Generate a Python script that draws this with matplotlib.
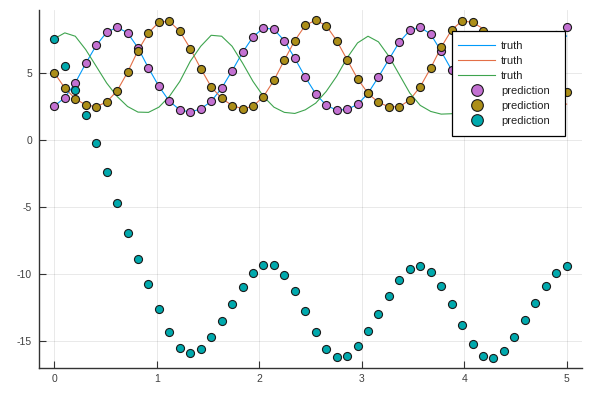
import numpy as np
import matplotlib
matplotlib.use("Agg")
import matplotlib.pyplot as plt
from matplotlib.patches import Rectangle

plt.rcParams['font.family'] = ['Liberation Sans', 'DejaVu Sans']

# time grid: 50 samples over [0, 5]
t = np.linspace(0, 5, 50)

pred_1 = [2.52, 3.15, 4.25, 5.70, 7.04, 8.02, 8.40, 7.98, 6.86, 5.36,
          3.99, 2.88, 2.24, 2.07, 2.31, 2.87, 3.86, 5.15, 6.52, 7.68,
          8.35, 8.24, 7.40, 6.08, 4.68, 3.43, 2.58, 2.22, 2.27, 2.64,
          3.47, 4.69, 6.00, 7.30, 8.16, 8.40, 7.88, 6.60, 5.21, 3.90,
          2.90, 2.35, 2.20, 2.40, 3.00, 4.00, 5.30, 6.70, 7.80, 8.42]

pred_2 = [5.00, 3.86, 3.07, 2.60, 2.48, 2.82, 3.66, 5.04, 6.66, 7.97,
          8.78, 8.84, 8.10, 6.81, 5.32, 3.95, 3.10, 2.56, 2.32, 2.50,
          3.23, 4.44, 5.95, 7.41, 8.54, 8.93, 8.52, 7.41, 5.98, 4.56,
          3.47, 2.79, 2.47, 2.47, 2.98, 3.97, 5.36, 6.91, 8.20, 8.88,
          8.76, 8.10, 6.90, 5.50, 4.10, 3.10, 2.60, 2.40, 2.65, 3.56]

pred_3 = [7.52, 5.48, 3.69, 1.86, -0.20, -2.42, -4.69, -6.91, -8.88, -10.75,
          -12.62, -14.34, -15.53, -15.93, -15.61, -14.71, -13.49, -12.22, -10.97, -9.90,
          -9.30, -9.35, -10.10, -11.29, -12.74, -14.31, -15.61, -16.23, -16.13, -15.38,
          -14.24, -12.97, -11.67, -10.47, -9.65, -9.40, -9.87, -10.90, -12.24, -13.81,
          -15.24, -16.13, -16.26, -15.73, -14.73, -13.46, -12.14, -10.92, -9.90, -9.40]

truth_1 = [2.52, 3.15, 4.25, 5.70, 7.04, 8.02, 8.40, 7.98, 6.86, 5.36,
           3.99, 2.88, 2.24, 2.07, 2.31, 2.87, 3.86, 5.15, 6.52, 7.68,
           8.35, 8.24, 7.40, 6.08, 4.68, 3.43, 2.58, 2.22, 2.27, 2.64,
           3.47, 4.69, 6.00, 7.30, 8.16, 8.40, 7.88, 6.60, 5.21, 4.20,
           3.10, 2.45, 2.20, 2.30, 2.80, 3.70, 4.90, 6.20, 7.20, 7.75]

truth_2 = [5.00, 3.86, 3.07, 2.60, 2.48, 2.82, 3.66, 5.04, 6.66, 7.97,
           8.78, 8.84, 8.10, 6.81, 5.32, 3.95, 3.10, 2.56, 2.32, 2.50,
           3.23, 4.44, 5.95, 7.41, 8.54, 8.93, 8.52, 7.41, 5.98, 4.56,
           3.47, 2.79, 2.47, 2.47, 2.98, 3.97, 5.36, 6.91, 8.20, 8.88,
           8.76, 8.30, 7.20, 5.80, 4.40, 3.30, 2.70, 2.40, 2.40, 2.67]

truth_3 = [7.55, 7.98, 7.73, 6.73, 5.49, 4.24, 3.24, 2.49, 2.07, 2.05,
           2.44, 3.24, 4.36, 5.86, 6.98, 7.80, 7.73, 6.98, 5.73, 4.36,
           3.24, 2.44, 2.05, 1.97, 2.24, 2.74, 3.61, 4.74, 6.11, 7.23,
           7.73, 7.31, 6.23, 4.86, 3.49, 2.57, 2.12, 1.92, 1.95, 2.20,
           2.80, 3.70, 4.90, 6.20, 7.30, 7.75, 7.35, 6.20, 4.80, 3.60]

line_colors = ['#009AFA', '#E36F47', '#3EA44E']
marker_colors = ['#C371D2', '#AC8E18', '#00A9AD']
line_labels = ['truth', 'truth', 'truth']
marker_labels = ['prediction', 'prediction', 'prediction']

W, H = 591, 393
fig = plt.figure(figsize=(W / 100, H / 100), dpi=100)
ax = fig.add_axes([39 / W, 1 - 368 / H, (582 - 39) / W, (368 - 10) / H])

handles = []
for y, c, lab in zip([truth_1, truth_2, truth_3], line_colors, line_labels):
    h, = ax.plot(t, y, color=c, lw=0.8, label=lab, zorder=2)
    handles.append(h)
for y, c, lab in zip([pred_1, pred_2, pred_3], marker_colors, marker_labels):
    h, = ax.plot(t, y, ls='none', marker='o', ms=5.8, mfc=c, mec='#1a1a1a',
                 mew=0.8, label=lab, zorder=3)
    handles.append(h)

allv = np.concatenate([pred_1, pred_2, pred_3, truth_1, truth_2, truth_3])
lo, hi = allv.min(), allv.max()
pad = 0.03 * (hi - lo)
ax.set_ylim(lo - pad, hi + pad)
ax.set_xlim(-0.15, 5.15)

ax.set_xticks([0, 1, 2, 3, 4, 5])
ax.set_yticks([-15, -10, -5, 0, 5])
ax.set_yticklabels(['-15', '-10', '-5', '0', '5'])
ax.grid(True, color='black', alpha=0.1, lw=0.6)
ax.set_axisbelow(True)
for s in ['top', 'right']:
    ax.spines[s].set_visible(False)
for s in ['left', 'bottom']:
    ax.spines[s].set_color('#333333')
    ax.spines[s].set_linewidth(1.0)
ax.tick_params(direction='in', length=5, width=0.8, color='#333333',
               labelsize=7.5, labelcolor='#404040')
ax.tick_params(axis='y', pad=5)
ax.tick_params(axis='x', pad=4.5)

# legend frame (drawn inside the axes, under the legend entries)
rect = Rectangle((452 / W, 1 - 136 / H), (565 - 452) / W, (136 - 31) / H,
                 transform=fig.transFigure, facecolor='white', edgecolor='black',
                 lw=0.9, zorder=4, clip_on=False)
ax.add_patch(rect)
leg = ax.legend(handles=handles, loc='upper left',
                bbox_to_anchor=(455 / W, 1 - 38 / H), bbox_transform=fig.transFigure,
                frameon=False, fontsize=8.0, handlelength=3.3, handletextpad=0.55,
                labelspacing=0.45, borderpad=0.3, borderaxespad=0,
                markerscale=1.45)
for txt in leg.get_texts():
    txt.set_color('#222222')
leg.set_zorder(5)

fig.savefig('out.png', dpi=100)
